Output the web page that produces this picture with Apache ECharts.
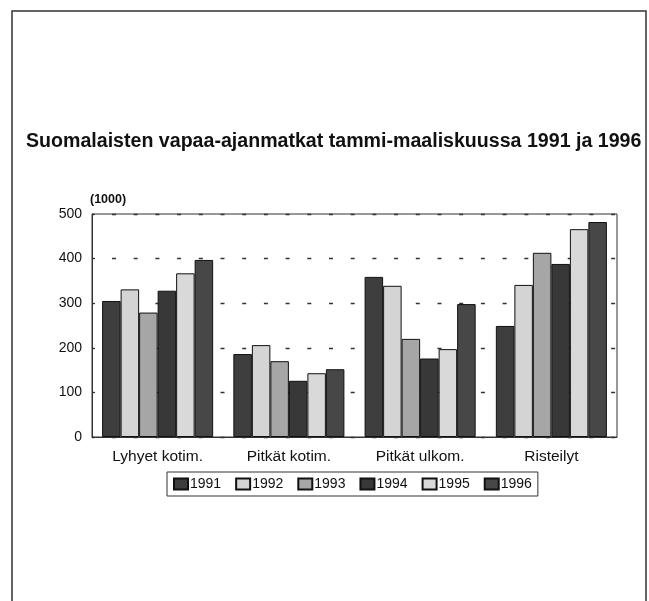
<!DOCTYPE html>
<html>
<head>
<meta charset="utf-8">
<script src="https://cdn.jsdelivr.net/npm/echarts@6/dist/echarts.min.js"></script>
<style>
html,body{margin:0;padding:0;background:#fff;}
#c{width:649px;height:601px;}
</style>
</head>
<body>
<div id="c"></div>
<script>
const categories = ['Lyhyet kotim.', 'Pitkät kotim.', 'Pitkät ulkom.', 'Risteilyt'];
const years = ['1991', '1992', '1993', '1994', '1995', '1996'];
const v1991 = [305, 186, 359, 249];
const v1992 = [331, 206, 339, 341];
const v1993 = [279, 170, 220, 413];
const v1994 = [328, 126, 176, 388];
const v1995 = [367, 143, 197, 466];
const v1996 = [397, 152, 298, 482];
const yTicks = [0, 100, 200, 300, 400, 500];

const seriesValues = [v1991, v1992, v1993, v1994, v1995, v1996];
const colors = ['#3e3e3e', '#d4d4d4', '#a6a6a6', '#383838', '#d9d9d9', '#474747'];
const font = '"Liberation Sans", Arial, sans-serif';

const chart = echarts.init(document.getElementById('c'), null, {renderer: 'canvas'});
chart.setOption({
  animation: false,
  backgroundColor: '#ffffff',
  title: {
    text: 'Suomalaisten vapaa-ajanmatkat tammi-maaliskuussa 1991 ja 1996',
    left: 21, top: 127,
    textStyle: {fontFamily: font, fontWeight: 'bold', fontSize: 19.6, color: '#111'}
  },
  graphic: [
    {type: 'polyline', shape: {points: [[12, 610], [12, 11], [646, 11], [646, 610]]},
     style: {stroke: '#333', lineWidth: 1.5, fill: null}, silent: true}
  ],
  legend: {
    data: years,
    top: 472, left: 167,
    itemWidth: 14, itemHeight: 11, itemGap: 14,
    padding: [5, 6, 5, 6],
    borderColor: '#333', borderWidth: 1,
    icon: 'rect',
    textStyle: {fontFamily: font, fontSize: 14, color: '#111', padding: [0, 0, 0, -3]}
  },
  grid: {left: 92, right: 32, top: 214, bottom: 164, show: true, borderColor: '#333', borderWidth: 1},
  xAxis: {
    type: 'category', data: categories,
    axisLine: {lineStyle: {color: '#333', width: 1}},
    axisTick: {show: false},
    axisLabel: {fontFamily: font, fontSize: 15.5, color: '#111', margin: 12}
  },
  yAxis: {
    type: 'value', min: yTicks[0], max: yTicks[yTicks.length - 1], interval: 100,
    name: '(1000)', nameLocation: 'end', nameGap: 8,
    nameTextStyle: {fontFamily: font, fontWeight: 'bold', fontSize: 12.5, color: '#111', align: 'left', padding: [0, 0, 0, -2]},
    axisLine: {show: true, lineStyle: {color: '#333', width: 1}},
    axisTick: {show: true, inside: true, length: 3, lineStyle: {color: '#333'}},
    axisLabel: {fontFamily: font, fontSize: 14, color: '#111', margin: 10},
    splitLine: {show: true, lineStyle: {color: '#333', type: [4, 17.7], dashOffset: -20, width: 1.3}}
  },
  series: years.map((y, i) => ({
    name: y, type: 'bar', data: seriesValues[i],
    barGap: '0%', barCategoryGap: '15.4%',
    itemStyle: {color: colors[i], borderColor: '#111', borderWidth: 1}
  }))
});
</script>
</body>
</html>
